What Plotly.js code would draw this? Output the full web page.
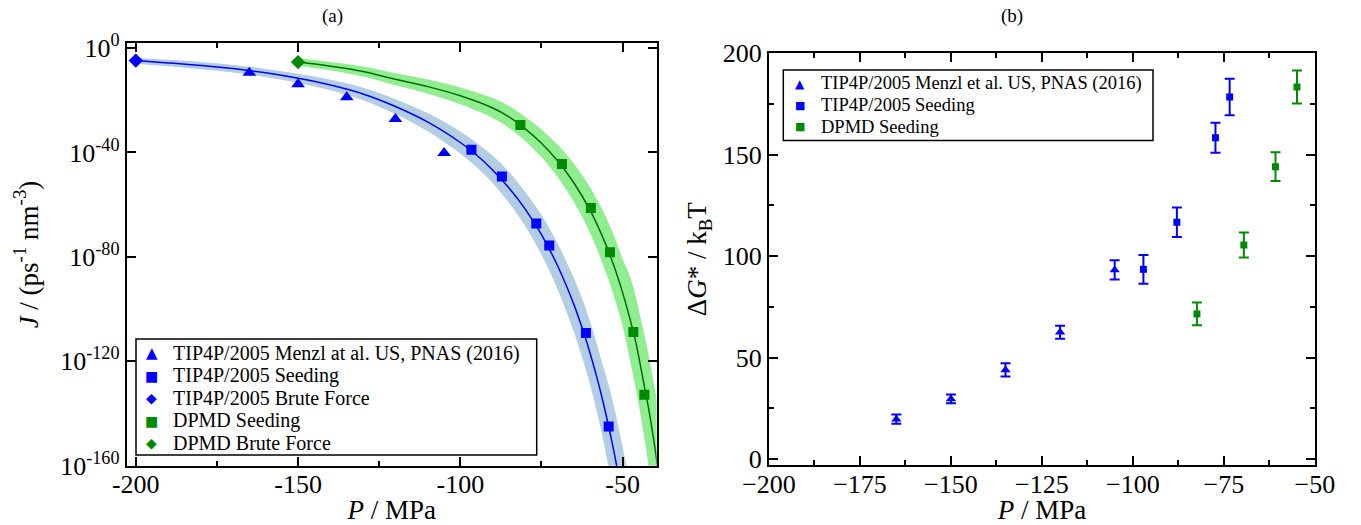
<!DOCTYPE html>
<html><head><meta charset="utf-8">
<script src="https://cdn.plot.ly/plotly-3.0.1.min.js"></script>
<style>html,body{margin:0;padding:0;background:#fff}#chart{width:1361px;height:525px}</style>
</head><body><div id="chart"></div>
<script>
// ---------- Panel (a): nucleation rate, log10 J (ps^-1 nm^-3) ----------
const menzlP_a = [-165, -150, -135, -120, -105];
const menzlLogJ_a = [-9.5, -13.9, -18.9, -27.2, -40.2];
const tipSeedP_a = [-96.6, -87.2, -76.6, -72.6, -61.3, -54.3];
const tipSeedLogJ_a = [-39.0, -49.2, -67.2, -75.7, -109.2, -145.0];
const tipBruteP_a = [-200];
const tipBruteLogJ_a = [-4.8];
const dpSeedP_a = [-81.5, -68.7, -59.8, -53.9, -46.7, -43.3];
const dpSeedLogJ_a = [-29.5, -44.4, -61.3, -78.2, -108.8, -132.8];
const dpBruteP_a = [-150];
const dpBruteLogJ_a = [-5.4];

// fitted curve + uncertainty band, TIP4P/2005
const tipCurveP = [-200, -190, -180, -170, -160, -150, -140, -130, -120, -110, -100, -95, -90, -85, -80, -75, -70, -65, -62, -60, -58, -56, -54, -53, -52, -51.4];
const tipCurveLogJ = [-4.8, -5.7, -6.7, -7.9, -9.5, -11.6, -14.2, -17.6, -22.4, -28.4, -36.2, -41.0, -46.8, -53.6, -61.7, -71.5, -83.5, -98.3, -109.0, -117.0, -125.9, -135.7, -146.7, -152.6, -158.9, -163.0];
const tipBandP = [-200, -190, -180, -170, -160, -150, -140, -130, -120, -110, -100, -95, -90, -85, -80, -75, -70, -65, -62, -60, -58, -56, -54, -52, -50, -48.5];
const tipBandLow = [-6.0, -7.0, -8.1, -9.4, -11.1, -13.4, -16.2, -20.0, -25.3, -32.0, -40.5, -45.7, -51.8, -59.3, -68.3, -79.2, -92.5, -108.8, -120.5, -129.2, -139.0, -150.0, -163.0, -177.0, -192.0, -205.0];
const tipBandHigh = [-3.7, -4.5, -5.4, -6.5, -8.0, -9.9, -12.2, -15.2, -19.6, -25.0, -32.0, -36.4, -41.3, -47.5, -55.2, -64.0, -75.0, -88.2, -97.6, -105.0, -113.2, -122.0, -130.5, -141.0, -153.0, -163.0];

// fitted curve + uncertainty band, DPMD
const dpCurveP = [-150, -140, -130, -120, -110, -100, -90, -85, -80, -75, -70, -65, -60, -55, -52, -50, -48, -46, -44, -43, -42, -41, -40, -39.3];
const dpCurveLogJ = [-5.4, -7.0, -9.0, -12.0, -14.8, -18.3, -23.0, -26.4, -31.0, -36.5, -43.3, -51.7, -62.2, -75.8, -85.9, -93.7, -102.5, -112.4, -125.0, -131.5, -138.0, -145.5, -153.5, -160.0];
const dpBandP = [-151.5, -150, -140, -130, -120, -110, -100, -90, -85, -80, -75, -70, -65, -60, -55, -52, -50, -48, -46, -44, -42, -40, -39.5];
const dpBandLow = [-6.6, -6.8, -8.6, -10.9, -14.3, -17.5, -21.5, -26.8, -30.6, -35.6, -41.8, -49.5, -59.0, -71.0, -86.5, -97.8, -106.5, -118.0, -130.0, -144.0, -160.0, -178.0, -183.0];
const dpBandHigh = [-4.2, -4.0, -5.4, -7.1, -9.7, -12.1, -15.1, -19.2, -22.2, -26.4, -31.2, -37.1, -44.4, -53.4, -65.1, -74.0, -80.9, -86.5, -95.0, -106.0, -117.5, -131.0, -134.5];

// tick labels (a)
const yTickExp_a = [0, -40, -80, -120, -160];
const xTicks_a = [-200, -150, -100, -50];
const legendLabels_a = ['TIP4P/2005 Menzl at al. US, PNAS (2016)', 'TIP4P/2005 Seeding', 'TIP4P/2005 Brute Force', 'DPMD Seeding', 'DPMD Brute Force'];

// ---------- Panel (b): free-energy barrier ΔG*/kBT ----------
const menzlP_b = [-165, -150, -135, -120, -105];
const menzlG_b = [19.6, 29.6, 43.9, 62.5, 93.2];
const menzlErr_b = [2.3, 2.2, 3.3, 3.2, 4.7];
const tipSeedP_b = [-97.1, -87.9, -77.3, -73.4];
const tipSeedG_b = [93.5, 116.7, 158.4, 178.4];
const tipSeedErr_b = [7.1, 7.3, 7.4, 9.0];
const dpSeedP_b = [-82.4, -69.5, -60.8, -54.9];
const dpSeedG_b = [71.5, 105.5, 144.1, 183.4];
const dpSeedErr_b = [5.6, 6.2, 7.1, 8.1];
const legendLabels_b = ['TIP4P/2005 Menzl et al. US, PNAS (2016)', 'TIP4P/2005 Seeding', 'DPMD Seeding'];

// ---------- styling ----------
const BLUE = '#0000ff', GREEN = '#008a00', GREEN_LINE = '#006e00';
const BLUE_BAND = '#b3cde3', GREEN_BAND = '#90ee90';
const FONT = '"Liberation Serif", "Times New Roman", serif';
const SYMFONT = '"DejaVu Sans", sans-serif';
const toJ = a => a.map(v => Math.pow(10, v));
const W = 1361, H = 525;
const px = (a, b) => [a / W, b / W];
const py = (top, bot) => [1 - bot / H, 1 - top / H];

const traces = [];
traces.push({x: tipBandP.concat(tipBandP.slice().reverse()), y: toJ(tipBandLow.concat(tipBandHigh.slice().reverse())),
  xaxis: 'x', yaxis: 'y', mode: 'lines', fill: 'toself', fillcolor: BLUE_BAND, line: {width: 0, shape: 'spline'}, showlegend: false, hoverinfo: 'skip'});
traces.push({x: dpBandP.concat(dpBandP.slice().reverse()), y: toJ(dpBandLow.concat(dpBandHigh.slice().reverse())),
  xaxis: 'x', yaxis: 'y', mode: 'lines', fill: 'toself', fillcolor: GREEN_BAND, line: {width: 0, shape: 'spline'}, showlegend: false, hoverinfo: 'skip'});
traces.push({x: tipCurveP, y: toJ(tipCurveLogJ), xaxis: 'x', yaxis: 'y', mode: 'lines', line: {color: BLUE, width: 1.5, shape: 'spline'}, showlegend: false});
traces.push({x: dpCurveP, y: toJ(dpCurveLogJ), xaxis: 'x', yaxis: 'y', mode: 'lines', line: {color: GREEN_LINE, width: 1.5, shape: 'spline'}, showlegend: false});
traces.push({x: menzlP_a, y: toJ(menzlLogJ_a), xaxis: 'x', yaxis: 'y', mode: 'markers', name: legendLabels_a[0],
  marker: {symbol: 'triangle-up', size: 12, color: BLUE}, showlegend: false});
traces.push({x: tipSeedP_a, y: toJ(tipSeedLogJ_a), xaxis: 'x', yaxis: 'y', mode: 'markers', name: legendLabels_a[1],
  marker: {symbol: 'square', size: 10, color: BLUE}, showlegend: false});
traces.push({x: tipBruteP_a, y: toJ(tipBruteLogJ_a), xaxis: 'x', yaxis: 'y', mode: 'markers', name: legendLabels_a[2],
  marker: {symbol: 'diamond', size: 11, color: BLUE}, showlegend: false});
traces.push({x: dpSeedP_a, y: toJ(dpSeedLogJ_a), xaxis: 'x', yaxis: 'y', mode: 'markers', name: legendLabels_a[3],
  marker: {symbol: 'square', size: 10, color: GREEN}, showlegend: false});
traces.push({x: dpBruteP_a, y: toJ(dpBruteLogJ_a), xaxis: 'x', yaxis: 'y', mode: 'markers', name: legendLabels_a[4],
  marker: {symbol: 'diamond', size: 11, color: GREEN}, showlegend: false});
traces.push({x: menzlP_b, y: menzlG_b, xaxis: 'x2', yaxis: 'y2', mode: 'markers', name: legendLabels_b[0],
  marker: {symbol: 'triangle-up', size: 9, color: BLUE},
  error_y: {type: 'data', array: menzlErr_b, visible: true, color: BLUE, thickness: 2, width: 5}, showlegend: false});
traces.push({x: tipSeedP_b, y: tipSeedG_b, xaxis: 'x2', yaxis: 'y2', mode: 'markers', name: legendLabels_b[1],
  marker: {symbol: 'square', size: 7, color: BLUE},
  error_y: {type: 'data', array: tipSeedErr_b, visible: true, color: BLUE, thickness: 2, width: 5}, showlegend: false});
traces.push({x: dpSeedP_b, y: dpSeedG_b, xaxis: 'x2', yaxis: 'y2', mode: 'markers', name: legendLabels_b[2],
  marker: {symbol: 'square', size: 7, color: GREEN},
  error_y: {type: 'data', array: dpSeedErr_b, visible: true, color: GREEN, thickness: 2, width: 5}, showlegend: false});

// ---------- hand-drawn legends (box + symbol glyph + label) ----------
const shapes = [];
const annotations = [];
function addLegend(box, rowTop, rowGap, symX, textX, labels, glyphs, colors, glyphSizes, fontSize) {
  shapes.push({type: 'rect', xref: 'paper', yref: 'paper', x0: box[0] / W, x1: box[1] / W, y0: 1 - box[3] / H, y1: 1 - box[2] / H,
    line: {color: '#000', width: 1.5}, fillcolor: '#fff', layer: 'above'});
  labels.forEach((lab, i) => {
    const yy = 1 - (rowTop + i * rowGap) / H;
    annotations.push({text: glyphs[i], x: symX / W, y: yy, xref: 'paper', yref: 'paper', xanchor: 'center', yanchor: 'middle',
      showarrow: false, font: {family: SYMFONT, size: glyphSizes[i], color: colors[i]}});
    annotations.push({text: lab, x: textX / W, y: yy, xref: 'paper', yref: 'paper', xanchor: 'left', yanchor: 'middle',
      showarrow: false, font: {family: FONT, size: fontSize, color: '#000'}});
  });
}
addLegend([136, 536.7, 339, 455], 353.3, 22.5, 151.7, 171, legendLabels_a,
  ['▲', '■', '◆', '■', '◆'], [BLUE, BLUE, BLUE, GREEN, GREEN], [15, 14, 14, 14, 14], 20);
addLegend([783.3, 1153, 70, 140.5], 83.5, 21.7, 800, 819, legendLabels_b,
  ['▲', '■', '■'], [BLUE, BLUE, GREEN], [12, 11, 11], 18.5);

annotations.push({text: '(a)', x: 332 / W, y: 1 - 16 / H, xref: 'paper', yref: 'paper', xanchor: 'center', yanchor: 'middle',
  showarrow: false, font: {family: FONT, size: 19, color: '#000'}});
annotations.push({text: '(b)', x: 1012 / W, y: 1 - 16 / H, xref: 'paper', yref: 'paper', xanchor: 'center', yanchor: 'middle',
  showarrow: false, font: {family: FONT, size: 19, color: '#000'}});

const axisBase = {showline: true, linecolor: '#000', linewidth: 2, mirror: 'ticks', ticks: 'inside', ticklen: 9, tickwidth: 2,
  tickcolor: '#000', showgrid: false, zeroline: false, tickfont: {family: FONT, size: 26, color: '#000'}};

const layout = {
  width: W, height: H, margin: {l: 0, r: 0, t: 0, b: 0}, paper_bgcolor: '#fff', plot_bgcolor: '#fff',
  font: {family: FONT, color: '#000'}, showlegend: false,
  xaxis: Object.assign({}, axisBase, {domain: px(126.7, 656.7), anchor: 'y', range: [-202.8, -39.5],
    tickvals: xTicks_a, ticktext: xTicks_a.map(String), ticklabelstandoff: -6,
    minor: {tickvals: [-175, -125, -75], ticks: 'inside', ticklen: 5, tickwidth: 2, tickcolor: '#000'},
    title: {text: '<i>P</i> / MPa', font: {family: FONT, size: 27}, standoff: 6}}),
  yaxis: Object.assign({}, axisBase, {domain: py(43.3, 465.7), anchor: 'x', type: 'log', range: [-160, 1.8],
    tickvals: yTickExp_a.map(e => Math.pow(10, e)), ticktext: yTickExp_a.map(e => '10<sup>' + (e === 0 ? '0' : '-' + Math.abs(e)) + '</sup>'),
    title: {text: '<i>J</i> / (ps<sup>-1</sup> nm<sup>-3</sup>)', font: {family: FONT, size: 27}, standoff: 14}}),
  xaxis2: Object.assign({}, axisBase, {domain: px(769, 1314.8), anchor: 'y2', range: [-200, -50],
    dtick: 25, tick0: -200, ticklabelstandoff: -5,
    minor: {dtick: 12.5, ticks: 'inside', ticklen: 5, tickwidth: 2, tickcolor: '#000'},
    title: {text: '<i>P</i> / MPa', font: {family: FONT, size: 27}, standoff: 6}}),
  yaxis2: Object.assign({}, axisBase, {domain: py(53.3, 465), anchor: 'x2', range: [-3, 200],
    dtick: 50, tick0: 0,
    minor: {dtick: 25, ticks: 'inside', ticklen: 5, tickwidth: 2, tickcolor: '#000'},
    title: {text: 'Δ<i>G</i>* / k<sub>B</sub>T', font: {family: FONT, size: 27}, standoff: 8}}),
  shapes: shapes,
  annotations: annotations
};

Plotly.newPlot('chart', traces, layout, {staticPlot: true, displayModeBar: false});
</script>
</body></html>
